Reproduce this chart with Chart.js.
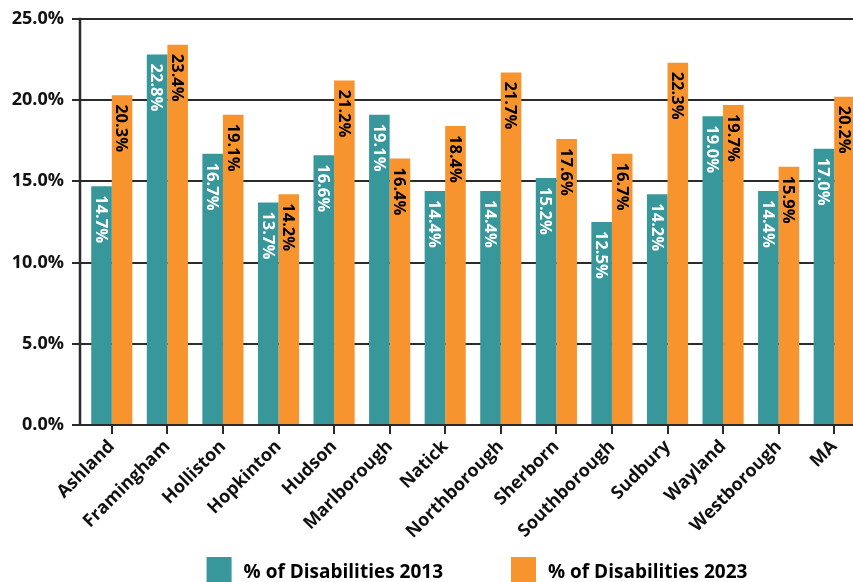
<!DOCTYPE html>
<html>
<head>
<meta charset="utf-8">
<script src="https://cdn.jsdelivr.net/npm/chart.js@4.4.1/dist/chart.umd.min.js"></script>
<style>
  html, body { margin: 0; padding: 0; background: #fff; overflow: hidden; }
  #wrap { position: relative; width: 866px; height: 582px; }
</style>
</head>
<body>
<div id="wrap"><canvas id="chart"></canvas></div>
<script>
// Share of residents with a disability, by town
const towns = ['Ashland', 'Framingham', 'Holliston', 'Hopkinton', 'Hudson', 'Marlborough', 'Natick',
  'Northborough', 'Sherborn', 'Southborough', 'Sudbury', 'Wayland', 'Westborough', 'MA'];
const disabilities2013 = [14.7, 22.8, 16.7, 13.7, 16.6, 19.1, 14.4, 14.4, 15.2, 12.5, 14.2, 19.0, 14.4, 17.0];
const disabilities2023 = [20.3, 23.4, 19.1, 14.2, 21.2, 16.4, 18.4, 21.7, 17.6, 16.7, 22.3, 19.7, 15.9, 20.2];
const seriesNames = ['% of Disabilities 2013', '% of Disabilities 2023'];
const yTicks = [0, 5, 10, 15, 20, 25];

const TEAL = '#38979b';
const ORANGE = '#f7942d';
const INK = '#111111';
const FONT = '"Open Sans", Lato, sans-serif';

// Percent labels written downward inside the top of each bar
const barLabels = {
  id: 'barLabels',
  afterDatasetsDraw(chart) {
    const ctx = chart.ctx;
    chart.data.datasets.forEach((ds, di) => {
      const meta = chart.getDatasetMeta(di);
      meta.data.forEach((bar, i) => {
        ctx.save();
        ctx.translate(bar.x, bar.y + 9);
        ctx.rotate(Math.PI / 2);
        ctx.font = 'bold 16.5px ' + FONT;
        ctx.fillStyle = di === 0 ? '#ffffff' : '#000000';
        ctx.textAlign = 'left';
        ctx.textBaseline = 'middle';
        ctx.fillText(ds.data[i].toFixed(1) + '%', 0, 1);
        ctx.restore();
      });
    });
  }
};

// Vertical axis line, set slightly left of the first category
const axisLine = {
  id: 'axisLine',
  afterDraw(chart) {
    const { ctx, chartArea } = chart;
    ctx.save();
    ctx.strokeStyle = '#2b2b2b';
    ctx.lineWidth = 2.5;
    ctx.beginPath();
    ctx.moveTo(chartArea.left - 4, chartArea.top - 1);
    ctx.lineTo(chartArea.left - 4, chartArea.bottom + 1);
    ctx.stroke();
    ctx.restore();
  }
};

// Legend row beneath the axis labels
const bottomLegend = {
  id: 'bottomLegend',
  afterDraw(chart) {
    const { ctx, chartArea } = chart;
    ctx.save();
    ctx.font = 'bold 19px ' + FONT;
    const box = 25, gapText = 12, gapItem = 68;
    const items = chart.data.datasets.map(ds => ({ label: ds.label, color: ds.backgroundColor, w: ctx.measureText(ds.label).width }));
    const total = items.reduce((s, it) => s + box + gapText + it.w, 0) + gapItem * (items.length - 1);
    let x = (chartArea.left + chartArea.right) / 2 + 4 - total / 2;
    const top = 557;
    items.forEach(it => {
      ctx.fillStyle = it.color;
      ctx.fillRect(x, top, box, box + 2);
      ctx.fillStyle = '#000';
      ctx.textAlign = 'left';
      ctx.textBaseline = 'alphabetic';
      ctx.fillText(it.label, x + box + gapText, top + 21);
      x += box + gapText + it.w + gapItem;
    });
    ctx.restore();
  }
};

new Chart(document.getElementById('chart'), {
  type: 'bar',
  data: {
    labels: towns,
    datasets: [
      { label: seriesNames[0], data: disabilities2013, backgroundColor: TEAL },
      { label: seriesNames[1], data: disabilities2023, backgroundColor: ORANGE }
    ]
  },
  options: {
    responsive: true,
    maintainAspectRatio: false,
    animation: false,
    layout: { padding: { top: 18, right: 4, bottom: 0, left: 0 } },
    datasets: { bar: { categoryPercentage: 0.74, barPercentage: 1.0 } },
    plugins: {
      legend: { display: false },
      tooltip: { enabled: false }
    },
    scales: {
      x: {
        grid: { display: true, drawOnChartArea: false, drawTicks: true, offset: false, tickLength: 9, color: '#2b2b2b', lineWidth: 2 },
        border: { display: false },
        ticks: {
          color: INK,
          font: { family: FONT, size: 18, weight: 'bold' },
          minRotation: 45,
          maxRotation: 45,
          padding: 2,
          autoSkip: false
        },
        afterFit(scale) { scale.height = 157; }
      },
      y: {
        min: 0,
        max: 25,
        afterBuildTicks(scale) { scale.ticks = yTicks.map(v => ({ value: v })); },
        grid: { color: '#2b2b2b', lineWidth: 2, tickLength: 12, drawTicks: true },
        border: { display: false },
        ticks: {
          color: INK,
          font: { family: FONT, size: 18, weight: 'bold' },
          padding: 8,
          callback: v => Number(v).toFixed(1) + '%'
        },
        afterFit(scale) { scale.width = 84; }
      }
    }
  },
  plugins: [barLabels, axisLine, bottomLegend]
});
</script>
</body>
</html>
